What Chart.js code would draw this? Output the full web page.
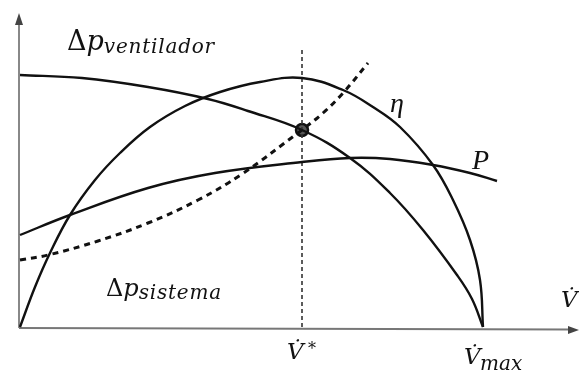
<!DOCTYPE html>
<html>
<head>
<meta charset="utf-8">
<script src="https://cdn.jsdelivr.net/npm/chart.js@4/dist/chart.umd.min.js"></script>
<style>
  body { margin: 0; background: #fff; }
  #chart { display: block; }
</style>
</head>
<body>
<canvas id="chart" width="579" height="376"></canvas>
<script>
var fanX = [0, 62, 128, 188, 228, 282, 330, 370, 403, 437, 452, 463];
var fanY = [252, 249, 240, 228, 216, 197, 169, 134, 97, 52, 28, 0];

var etaX = [0, 15, 30, 50, 75, 100, 130, 165, 200, 240, 282, 323, 353, 380, 413, 433, 450, 460, 463];
var etaY = [0, 40, 74, 112, 147, 174, 200, 221, 235, 245, 249, 237, 220, 200, 162, 127, 87, 47, 0];

var powerX = [0, 50, 128, 195, 282, 330, 370, 413, 450, 477];
var powerY = [92, 112, 139, 154, 165, 169, 168, 162, 154, 146];

var systemX = [0, 28, 78, 128, 178, 222, 278, 282, 303, 323, 348];
var systemY = [67, 72, 86, 104, 127, 153, 194, 197, 214, 234, 264];

var vStar = 282;     // caudal de operacion
var pStar = 197;     // presion de operacion
var vMax = 463;
var vLineTop = 279;

function pts(xs, ys) {
  return xs.map(function (x, i) { return { x: x, y: ys[i] }; });
}

var curveStyle = {
  showLine: true,
  borderColor: '#111',
  borderWidth: 2.4,
  pointRadius: 0,
  fill: false,
  tension: 0.4
};

// Ejes con flechas y etiquetas
var decoPlugin = {
  id: 'deco',
  beforeDatasetsDraw: function (chart) {
    var ctx = chart.ctx;
    var xs = chart.scales.x, ys = chart.scales.y;
    var x0 = xs.getPixelForValue(0), y0 = ys.getPixelForValue(0);
    ctx.save();
    ctx.strokeStyle = '#888';
    ctx.lineWidth = 2;
    ctx.beginPath();
    ctx.moveTo(x0 - 1, y0 + 1);
    ctx.lineTo(x0 - 1, 22);
    ctx.stroke();
    ctx.fillStyle = '#444';
    ctx.beginPath();
    ctx.moveTo(x0 - 1, 13);
    ctx.lineTo(x0 - 5, 25);
    ctx.lineTo(x0 + 3, 25);
    ctx.closePath();
    ctx.fill();
    ctx.strokeStyle = '#777';
    ctx.beginPath();
    ctx.moveTo(x0 - 1, y0 + 1);
    ctx.lineTo(570, y0 + 2.5);
    ctx.stroke();
    ctx.beginPath();
    ctx.moveTo(579, y0 + 3);
    ctx.lineTo(568, y0 - 1);
    ctx.lineTo(568, y0 + 7);
    ctx.closePath();
    ctx.fill();
    ctx.restore();
  },
  afterDraw: function (chart) {
    var ctx = chart.ctx;
    ctx.save();
    ctx.fillStyle = '#111';
    ctx.textBaseline = 'alphabetic';
    function label(x, y, main, sub, size, subSize) {
      ctx.font = size + 'px "DejaVu Serif"';
      ctx.fillText('Δ', x, y);
      var w = ctx.measureText('Δ').width;
      ctx.font = 'italic ' + size + 'px "DejaVu Serif"';
      ctx.fillText(main, x + w, y);
      w += ctx.measureText(main).width;
      ctx.font = 'italic ' + subSize + 'px "DejaVu Serif"';
      ctx.letterSpacing = '0.8px';
      ctx.fillText(sub, x + w, y + 3);
      ctx.letterSpacing = '0px';
    }
    label(67, 50, 'p', 'ventilador', 27, 20);
    label(106, 296, 'p', 'sistema', 24, 20);

    ctx.font = 'italic 28px "Liberation Serif"';
    ctx.fillText('η', 390, 112);
    ctx.fillText('P', 472, 169);

    ctx.font = 'italic 23px "DejaVu Serif"';
    ctx.fillText('V\u0307', 561, 307);
    ctx.fillText('V\u0307', 287, 359);
    ctx.fillText('V\u0307', 464, 364);
    ctx.font = '16px "DejaVu Serif"';
    ctx.fillText('*', 308, 354);
    ctx.font = 'italic 20px "DejaVu Serif"';
    ctx.fillText('max', 480, 370);
    ctx.restore();
  }
};

new Chart(document.getElementById('chart'), {
  type: 'scatter',
  data: {
    datasets: [
      Object.assign({ label: 'Δp ventilador', data: pts(fanX, fanY) }, curveStyle),
      Object.assign({ label: 'η', data: pts(etaX, etaY) }, curveStyle),
      Object.assign({ label: 'P', data: pts(powerX, powerY) }, curveStyle),
      Object.assign({ label: 'Δp sistema', data: pts(systemX, systemY) }, curveStyle,
        { borderWidth: 3, borderDash: [6, 5] }),
      {
        label: 'V*',
        data: [{ x: vStar, y: 0 }, { x: vStar, y: vLineTop }],
        showLine: true,
        borderColor: '#333',
        borderWidth: 1.6,
        borderDash: [4, 3],
        pointRadius: 0
      },
      {
        label: 'punto',
        data: [{ x: vStar, y: pStar }],
        pointRadius: 6,
        pointBackgroundColor: '#555',
        pointBorderColor: '#111',
        pointBorderWidth: 2.5
      },
      {
        label: 'Vmax',
        data: [{ x: vMax, y: 0 }],
        pointRadius: 0
      }
    ]
  },
  options: {
    responsive: false,
    animation: false,
    devicePixelRatio: 1,
    layout: { padding: 0, autoPadding: false },
    plugins: {
      legend: { display: false },
      tooltip: { enabled: false }
    },
    scales: {
      x: { type: 'linear', min: -20, max: 559, display: false },
      y: { type: 'linear', min: -49, max: 327, display: false }
    }
  },
  plugins: [decoPlugin]
});
</script>
</body>
</html>
